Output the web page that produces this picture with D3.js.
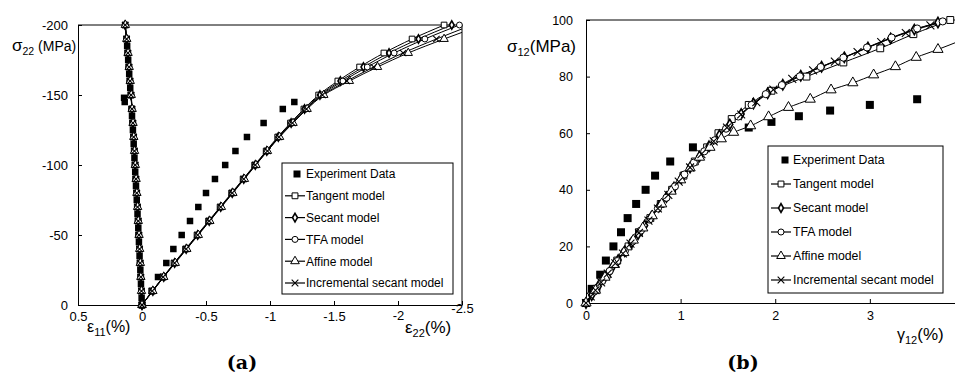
<!DOCTYPE html>
<html>
<head>
<meta charset="utf-8">
<script src="https://cdn.jsdelivr.net/npm/d3@7"></script>
<style>
  body { margin: 0; background: #fff; }
  text { font-family: "Liberation Sans", Arial, sans-serif; fill: #000; }
</style>
</head>
<body>
<svg id="chart" width="955" height="373"></svg>
<script>
// ---------- panel (a): sigma22 vs strain ----------
const stressA = [0,-10,-20,-30,-40,-50,-60,-70,-80,-90,-100,-110,-120,-130,-140,-150,-160,-170,-180,-190,-200];

// transverse strain e11 (left branch)
const e11Tangent     = [0,0.004,0.009,0.014,0.019,0.024,0.029,0.035,0.041,0.047,0.053,0.059,0.065,0.071,0.078,0.085,0.093,0.101,0.110,0.120,0.131];
const e11Secant      = [0,0.004,0.009,0.014,0.019,0.024,0.030,0.035,0.041,0.047,0.053,0.059,0.065,0.072,0.079,0.086,0.094,0.102,0.111,0.121,0.132];
const e11TFA         = [0,0.005,0.010,0.015,0.020,0.025,0.030,0.036,0.042,0.048,0.054,0.060,0.066,0.072,0.079,0.086,0.094,0.103,0.112,0.122,0.133];
const e11Affine      = [0,0.004,0.009,0.013,0.018,0.023,0.029,0.034,0.040,0.046,0.052,0.058,0.064,0.070,0.077,0.084,0.092,0.100,0.109,0.119,0.130];
const e11Incremental = [0,0.004,0.009,0.014,0.019,0.024,0.029,0.035,0.041,0.047,0.053,0.059,0.065,0.071,0.078,0.085,0.093,0.101,0.110,0.120,0.131];

// longitudinal strain e22 (right branch)
const e22Tangent     = [0,-0.08,-0.165,-0.25,-0.34,-0.43,-0.52,-0.61,-0.70,-0.79,-0.88,-0.97,-1.06,-1.16,-1.265,-1.38,-1.53,-1.70,-1.89,-2.11,-2.36];
const e22Secant      = [0,-0.085,-0.17,-0.255,-0.345,-0.435,-0.525,-0.615,-0.705,-0.795,-0.885,-0.975,-1.065,-1.165,-1.27,-1.39,-1.55,-1.73,-1.93,-2.16,-2.42];
const e22TFA         = [0,-0.08,-0.17,-0.255,-0.345,-0.435,-0.525,-0.615,-0.705,-0.795,-0.885,-0.975,-1.07,-1.17,-1.28,-1.40,-1.57,-1.76,-1.97,-2.21,-2.48];
const e22Affine      = [0,-0.085,-0.17,-0.26,-0.35,-0.44,-0.53,-0.62,-0.71,-0.80,-0.89,-0.98,-1.075,-1.18,-1.29,-1.42,-1.62,-1.84,-2.08,-2.36,-2.66];
const e22Incremental = [0,-0.08,-0.165,-0.255,-0.345,-0.435,-0.525,-0.615,-0.705,-0.795,-0.885,-0.98,-1.07,-1.175,-1.285,-1.41,-1.60,-1.81,-2.04,-2.30,-2.58];

// experiment (a)
const expS11 = [0,-5,-10,-15,-20,-25,-30,-35,-40,-45,-50,-55,-60,-65,-70,-75,-80,-85,-90,-95,-100,-105,-110,-115,-120,-125,-130,-135,-140,-145,-148,-150,-155,-160,-165,-170,-175,-180,-185,-190];
const expE11 = [0,0.003,0.006,0.008,0.011,0.013,0.016,0.019,0.021,0.024,0.027,0.029,0.032,0.035,0.038,0.041,0.044,0.047,0.050,0.053,0.056,0.059,0.062,0.065,0.068,0.071,0.075,0.078,0.082,0.135,0.140,0.088,0.092,0.096,0.100,0.104,0.108,0.112,0.116,0.120];
const expS22 = [0,-10,-20,-20,-30,-40,-50,-60,-70,-80,-90,-100,-110,-120,-130,-140,-145];
const expE22 = [0,-0.075,-0.125,-0.165,-0.19,-0.245,-0.31,-0.375,-0.44,-0.50,-0.57,-0.65,-0.73,-0.82,-0.95,-1.10,-1.19];

const xTicksA = [0.5,0,-0.5,-1,-1.5,-2,-2.5];
const yTicksA = [0,-50,-100,-150,-200];

// ---------- panel (b): sigma12 vs gamma12 ----------
const tanG = [0,0.11,0.22,0.33,0.45,0.56,0.68,0.79,0.91,1.03,1.15,1.28,1.40,1.54,1.72,1.96,2.33,2.72,3.11,3.46,3.85];
const tanT = [0,5,10,15,20,25,30,35,40,45,50,55,60,65,70,75,80,85,90,95,100];
const secG = [0,0.06,0.13,0.2,0.27,0.34,0.41,0.48,0.55,0.62,0.69,0.77,0.85,0.93,1.01,1.1,1.2,1.3,1.41,1.52,1.64,1.77,1.92,2.08,2.27,2.49,2.73,2.98,3.22,3.47,3.72];
const secT = [0,2.7,5.9,9.1,12.2,15.2,18.3,21.3,24.3,27.4,30.4,34,37.4,40.8,44.2,47.9,51.8,55.4,59.3,63.1,66.8,70.5,74.1,77.1,80.3,83.5,86.8,90.3,93.5,96.6,99.1];
const tfaG = [0,0.09,0.17,0.25,0.33,0.41,0.49,0.58,0.67,0.76,0.85,0.94,1.04,1.14,1.25,1.36,1.48,1.61,1.75,1.9,2.07,2.26,2.48,2.72,2.97,3.23,3.5,3.77];
const tfaT = [0,4.1,7.7,11.3,14.8,18.3,21.7,25.6,29.5,33.4,37.2,41.2,45.4,49.6,53.6,57.5,61.6,65.9,70,73.8,77,80.1,83.4,86.7,90.3,93.8,97,99.5];
const affG = [0,0.1,0.2,0.3,0.4,0.5,0.6,0.7,0.8,0.9,1.0,1.1,1.2,1.31,1.43,1.56,1.74,1.93,2.14,2.37,2.59,2.82,3.04,3.27,3.49,3.72,3.95];
const affT = [0,4.5,9.1,13.6,17.8,22.2,26.5,30.8,35,39.5,43.5,47.7,51.5,55,58,60.3,62.6,65.8,69.1,72,75.3,77.8,80.6,83.5,86.8,89.6,92.6];
const incG = [0,0.05,0.1,0.16,0.23,0.31,0.39,0.47,0.56,0.66,0.76,0.87,0.98,1.1,1.22,1.35,1.49,1.64,1.8,1.98,2.18,2.4,2.63,2.87,3.12,3.38,3.64,3.9];
const incT = [0,2.3,4.5,7.3,10.4,14,17.5,21,24.8,29.1,33.4,38.2,42.9,47.9,52.6,57.1,62,66.6,71,75.4,79.2,82.2,85.3,88.7,92.2,95.4,98.1,100.3];
const expG = [0,0.06,0.15,0.21,0.29,0.37,0.44,0.53,0.63,0.73,0.89,1.13,1.72,1.96,2.25,2.58,3.0,3.5];
const expT = [0,5,10,15,20,25,30,35,40,45,50,55,62,64,66,68,70,72];

const xTicksB = [0,1,2,3];
const yTicksB = [0,20,40,60,80,100];

const legendNames = ["Experiment Data","Tangent model","Secant model","TFA model","Affine model","Incremental secant model"];

const svg = d3.select("#chart");

const symbolDefs = {
    tangent:     { type: d3.symbolSquare,   size: 38, fill: "#fff", sw: 1 },
    secant:      { type: d3.symbolDiamond,  size: 24, fill: "#fff", sw: 1.6 },
    tfa:         { type: d3.symbolCircle,   size: 32, fill: "#fff", sw: 1 },
    affine:      { type: d3.symbolTriangle, size: 36, fill: "#fff", sw: 1 },
    incremental: { type: d3.symbolX,        size: 34, fill: "none", sw: 1.1 }
};

function drawMarker(sel, key, scale) {
    const s = symbolDefs[key];
    return sel.attr("d", d3.symbol().type(s.type).size(s.size * scale)())
        .attr("fill", s.fill).attr("stroke", "#000").attr("stroke-width", s.sw);
}

function drawPanel(p) {
    const x = d3.scaleLinear().domain(p.xDomain).range(p.xRange);
    const y = d3.scaleLinear().domain(p.yDomain).range(p.yRange);
    const g = svg.append("g");

    const clipId = "clip-" + p.id;
    svg.append("clipPath").attr("id", clipId).append("rect")
        .attr("x", p.xRange[0]).attr("y", p.yRange[1])
        .attr("width", p.xRange[1] - p.xRange[0]).attr("height", p.yRange[0] - p.yRange[1]);

    // frame (top + right)
    g.append("path")
        .attr("d", `M${p.xRange[0]},${p.yRange[1]}H${p.frameRight}V${p.yRange[0]}`)
        .attr("fill", "none").attr("stroke", "#000").attr("stroke-width", 1);

    // axes
    const xAxis = g.append("g").attr("transform", `translate(0,${p.yRange[0]})`)
        .call(d3.axisBottom(x).tickValues(p.xTicks).tickSizeInner(-4).tickSizeOuter(0)
            .tickPadding(p.xPad).tickFormat(d => String(d)));
    const yAxis = g.append("g").attr("transform", `translate(${p.xRange[0]},0)`)
        .call(d3.axisLeft(y).tickValues(p.yTicks).tickSizeInner(-4).tickSizeOuter(0)
            .tickPadding(p.yPad).tickFormat(d => String(d)));
    [xAxis, yAxis].forEach(a => {
        a.selectAll("text").attr("font-size", p.tickFont).attr("font-family", null);
        a.selectAll("path, line").attr("stroke", "#000");
    });
    if (p.tweakXTicks) p.tweakXTicks(xAxis);

    const plot = g.append("g");
    const lines = plot.append("g").attr("clip-path", `url(#${clipId})`);
    const inside = d => d[0] >= Math.min(...p.xDomain) - 1e-9 && d[0] <= Math.max(...p.xDomain) + 1e-9
        && d[1] >= Math.min(...p.yDomain) - 1e-9 && d[1] <= Math.max(...p.yDomain) + 1e-9;

    // experiment squares
    p.experiment.forEach(s => {
        const pts = s.x.map((v, i) => [v, s.y[i]]).filter(inside);
        plot.append("g").selectAll("rect").data(pts).join("rect")
            .attr("x", d => x(d[0]) - p.expSize / 2).attr("y", d => y(d[1]) - p.expSize / 2)
            .attr("width", p.expSize).attr("height", p.expSize).attr("fill", "#000");
    });

    // model curves
    p.models.forEach(m => {
        m.series.forEach(s => {
            const pts = s.x.map((v, i) => [v, s.y[i]]);
            lines.append("path")
                .attr("d", d3.line().x(d => x(d[0])).y(d => y(d[1])).curve(d3.curveMonotoneY)(pts))
                .attr("fill", "none").attr("stroke", "#000").attr("stroke-width", 1);
            plot.append("g").selectAll("path").data(pts.filter(inside)).join("path")
                .attr("transform", d => `translate(${x(d[0])},${y(d[1])})`)
                .call(sel => drawMarker(sel, m.key, p.symScale));
        });
    });

    // legend
    const L = p.legend;
    const lg = g.append("g");
    lg.append("rect").attr("x", L.x0).attr("y", L.y0).attr("width", L.x1 - L.x0).attr("height", L.y1 - L.y0)
        .attr("fill", "#fff").attr("stroke", "#000").attr("stroke-width", 1);
    legendNames.forEach((name, i) => {
        const cy = L.firstY + i * L.step;
        if (i === 0) {
            lg.append("rect").attr("x", L.expX - 3.5).attr("y", cy - 3.5).attr("width", 7).attr("height", 7).attr("fill", "#000");
        } else {
            const key = p.models[i - 1].key;
            lg.append("line").attr("x1", L.lineX).attr("x2", L.lineX + 20).attr("y1", cy).attr("y2", cy)
                .attr("stroke", "#000").attr("stroke-width", 1.2);
            lg.append("path").attr("transform", `translate(${L.lineX + 10},${cy})`)
                .call(sel => drawMarker(sel, key, 0.9));
        }
        lg.append("text").attr("x", L.textX).attr("y", cy).attr("dy", "0.36em")
            .attr("font-size", L.font).text(name);
    });
}

drawPanel({
    id: "a",
    xDomain: [0.5, -2.5], xRange: [78, 462],
    yDomain: [0, -200], yRange: [305, 25],
    frameRight: 462,
    xTicks: xTicksA, yTicks: yTicksA, xPad: 7, yPad: 10, tickFont: 13,
    symScale: 0.85, expSize: 6.5,
    tweakXTicks: ax => {
        ax.selectAll(".tick").filter(d => d === -2).select("text").attr("y", 6);
        ax.selectAll(".tick").filter(d => d === -2.5).select("text").attr("y", -1);
    },
    experiment: [{ x: expE11, y: expS11 }, { x: expE22, y: expS22 }],
    models: [
        { key: "tangent", series: [{ x: e11Tangent, y: stressA }, { x: e22Tangent, y: stressA }] },
        { key: "secant", series: [{ x: e11Secant, y: stressA }, { x: e22Secant, y: stressA }] },
        { key: "tfa", series: [{ x: e11TFA, y: stressA }, { x: e22TFA, y: stressA }] },
        { key: "affine", series: [{ x: e11Affine, y: stressA }, { x: e22Affine, y: stressA }] },
        { key: "incremental", series: [{ x: e11Incremental, y: stressA }, { x: e22Incremental, y: stressA }] }
    ],
    legend: { x0: 282, x1: 453, y0: 163, y1: 294, firstY: 174, step: 21.8, expX: 297, lineX: 285, textX: 306, font: 12 }
});

drawPanel({
    id: "b",
    xDomain: [0, 3.9], xRange: [586, 955],
    yDomain: [0, 100], yRange: [303, 20],
    frameRight: 960,
    xTicks: xTicksB, yTicks: yTicksB, xPad: 8, yPad: 13, tickFont: 12.5,
    symScale: 1.25, expSize: 8,
    experiment: [{ x: expG, y: expT }],
    models: [
        { key: "tangent", series: [{ x: tanG, y: tanT }] },
        { key: "secant", series: [{ x: secG, y: secT }] },
        { key: "tfa", series: [{ x: tfaG, y: tfaT }] },
        { key: "affine", series: [{ x: affG, y: affT }] },
        { key: "incremental", series: [{ x: incG, y: incT }] }
    ],
    legend: { x0: 768, x1: 943, y0: 146, y1: 293, firstY: 160, step: 24, expX: 785, lineX: 771, textX: 793, font: 12.3 }
});

// axis titles with sub-scripts
function subLabel(x, y, main, sub, rest, mainSize, subSize, restSize) {
    const t = svg.append("text").attr("x", x).attr("y", y);
    t.append("tspan").attr("font-size", mainSize).text(main);
    t.append("tspan").attr("font-size", subSize).attr("dy", 4).text(sub);
    t.append("tspan").attr("font-size", restSize).attr("dy", -4).text(rest);
}
subLabel(12, 51, "σ", "22", " (MPa)", 17, 10.5, 14);
subLabel(507, 52, "σ", "12", "(MPa)", 17, 11, 17);
subLabel(87, 332, "ε", "11", "(%)", 16, 11, 16);
subLabel(405, 333, "ε", "22", "(%)", 17, 11, 17);
subLabel(897, 340, "γ", "12", "(%)", 16, 11, 17);

// panel captions
svg.append("text").attr("x", 242).attr("y", 369).attr("text-anchor", "middle")
    .style("font-family", "'DejaVu Serif', serif").attr("font-weight", "bold")
    .attr("font-size", 19).text("(a)");
svg.append("text").attr("x", 743).attr("y", 369).attr("text-anchor", "middle")
    .style("font-family", "'DejaVu Serif', serif").attr("font-weight", "bold")
    .attr("font-size", 19).text("(b)");
</script>
</body>
</html>
